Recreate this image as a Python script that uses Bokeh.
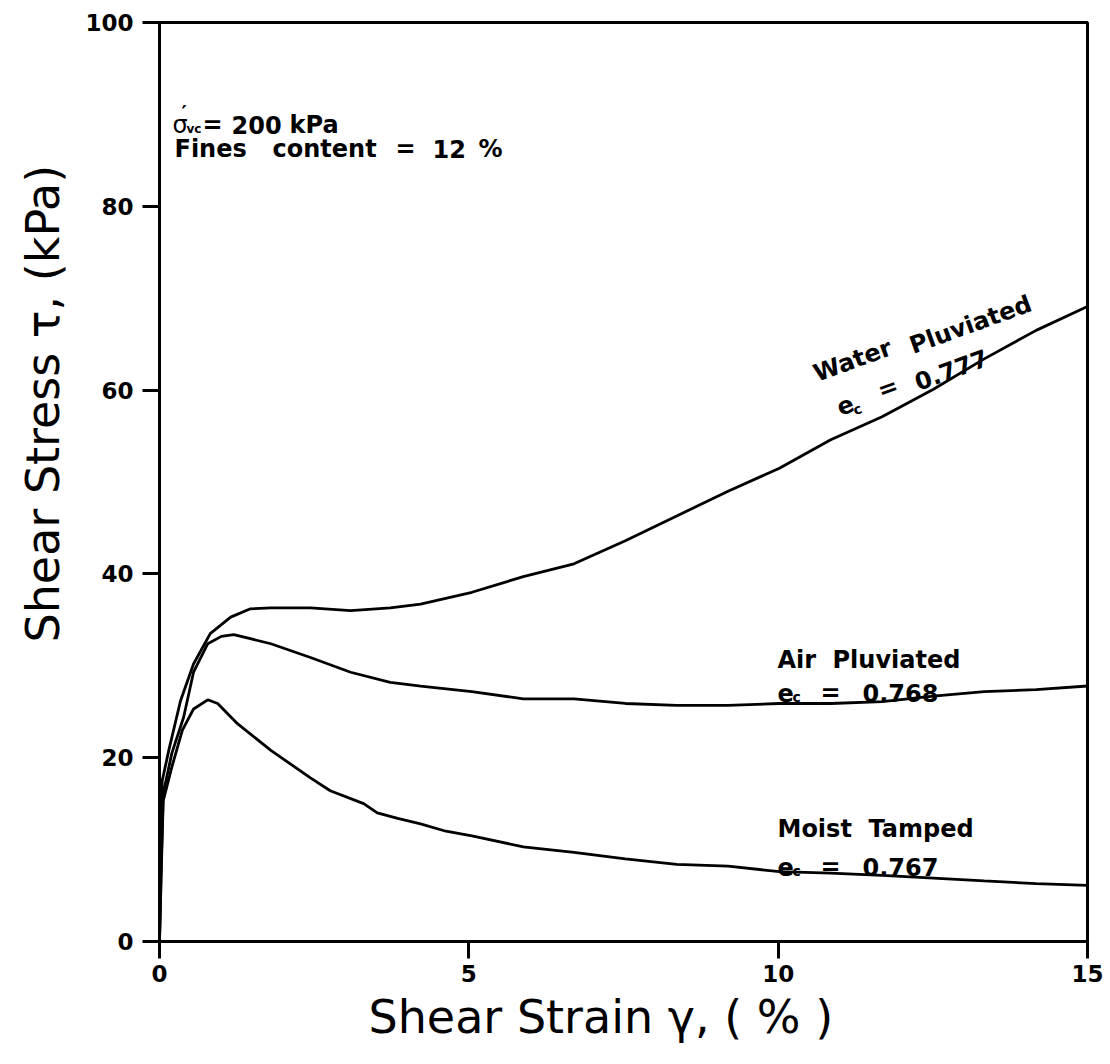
import math
from bokeh.plotting import figure
from bokeh.models import Label, FixedTicker, Range1d, Title
from bokeh.embed import file_html
from bokeh.resources import INLINE

# ---- data ----
water_x = [0, 0.02, 0.044, 0.15, 0.34, 0.55, 0.82, 1.15, 1.47, 1.8, 2.44, 3.09, 3.73,
           4.22, 5.05, 5.88, 6.70, 7.53, 8.36, 9.19, 10.02, 10.85, 11.68, 12.51, 13.33, 14.17, 15.0]
water_y = [0, 10, 17.5, 20.8, 26.2, 30.2, 33.5, 35.3, 36.2, 36.3, 36.3, 36.0, 36.3,
           36.7, 38.0, 39.7, 41.1, 43.6, 46.3, 49.0, 51.5, 54.6, 57.1, 60.1, 63.4, 66.5, 69.1]

air_x = [0, 0.03, 0.06, 0.2, 0.39, 0.55, 0.78, 1.0, 1.2, 1.8, 2.44, 3.09, 3.73,
         4.22, 5.05, 5.88, 6.70, 7.53, 8.36, 9.19, 10.02, 10.85, 11.68, 12.51, 13.33, 14.17, 15.0]
air_y = [0, 9, 16.1, 20.5, 24.4, 29.3, 32.4, 33.2, 33.4, 32.4, 30.9, 29.3, 28.2,
         27.8, 27.2, 26.4, 26.4, 25.9, 25.7, 25.7, 25.9, 25.9, 26.1, 26.7, 27.2, 27.4, 27.8]

moist_x = [0, 0.03, 0.06, 0.2, 0.37, 0.55, 0.78, 0.94, 1.26, 1.8, 2.44, 2.76, 3.3, 3.52, 3.85,
           4.22, 4.63, 5.05, 5.88, 6.70, 7.53, 8.36, 9.19, 10.02, 10.85, 11.68, 12.51, 13.33, 14.17, 15.0]
moist_y = [0, 8, 15.3, 19.0, 23.0, 25.3, 26.3, 25.9, 23.7, 20.8, 17.8, 16.4, 15.0, 14.0, 13.4,
           12.8, 12.0, 11.5, 10.3, 9.7, 9.0, 8.4, 8.2, 7.6, 7.45, 7.2, 6.9, 6.6, 6.3, 6.1]

x_ticks = [0, 5, 10, 15]
y_ticks = [0, 20, 40, 60, 80, 100]

x_title = "Shear Strain γ, ( % )"
y_title = "Shear Stress τ, (kPa)"

# ---- layout constants ----
W, H = 1110, 1064
FL, FR, FT, FB = 159, 1087, 22, 941   # frame edges in pixels
XMAX, YMAX = 15, 100
FONT = "DejaVu Sans"


def X(px):
    return (px - FL) * XMAX / (FR - FL)


def Y(py):
    return (FB - py) * YMAX / (FB - FT)


p = figure(width=W, height=H, x_range=Range1d(0, XMAX), y_range=Range1d(0, YMAX),
           output_backend="svg", toolbar_location=None,
           min_border_left=FL, min_border_right=W - FR,
           min_border_top=FT, min_border_bottom=H - FB)
p.background_fill_color = "white"
p.border_fill_color = "white"
p.grid.visible = False
p.outline_line_color = "black"
p.outline_line_width = 3

p.xaxis.ticker = FixedTicker(ticks=x_ticks, minor_ticks=[])
p.yaxis.ticker = FixedTicker(ticks=y_ticks, minor_ticks=[])
for ax in (p.xaxis, p.yaxis):
    ax.axis_line_color = "black"
    ax.axis_line_width = 3
    ax.major_tick_line_color = "black"
    ax.major_tick_line_width = 3
    ax.major_tick_in = 0
    ax.major_tick_out = 17
    ax.minor_tick_line_color = None
    ax.major_label_text_font = FONT
    ax.major_label_text_font_style = "bold"
    ax.major_label_text_font_size = "23px"
    ax.major_label_text_color = "black"
p.xaxis.major_label_standoff = 6
p.yaxis.major_label_standoff = 9

# axis titles as Title panels so they can sit off-centre like the reference
p.add_layout(Title(text=y_title, align="left", offset=299, text_font=FONT,
                   text_font_size="46px", text_font_style="normal",
                   text_color="black", standoff=25), "left")
p.add_layout(Title(text=x_title, align="left", offset=209, text_font=FONT,
                   text_font_size="46px", text_font_style="normal",
                   text_color="black", standoff=6), "below")

for xs, ys in ((water_x, water_y), (air_x, air_y), (moist_x, moist_y)):
    p.line(xs, ys, line_color="black", line_width=2.8)


def txt(s, px, py, size=24, bold=True, angle=0.0, align="left", baseline="alphabetic"):
    p.add_layout(Label(x=X(px), y=Y(py), text=s, text_font=FONT,
                       text_font_size=f"{size}px",
                       text_font_style="bold" if bold else "normal",
                       angle=angle, text_align=align, text_baseline=baseline,
                       text_color="black"))


# top-left note
txt("σ", 172, 124, bold=False)
txt("′", 181, 111, size=20)
txt("vc", 186, 128, size=12)
txt("=", 202, 124)
txt("200", 231, 124)
txt("kPa", 289, 124)
txt("Fines", 174, 148)
txt("content", 272, 148)
txt("=", 395, 148)
txt("12", 432, 148)
txt("%", 478, 148)

# Water pluviated (rotated)
a = math.radians(20)
txt("Water", 814, 374, angle=a)
txt("Pluviated", 910, 346, angle=a)
txt("e", 837, 407, angle=a)
txt("c", 853, 410, size=14, angle=a)
txt("=", 878, 391, angle=a)
txt("0.777", 915, 382, angle=a)

# Air pluviated
txt("Air", 777, 659)
txt("Pluviated", 832, 659)
txt("e", 777, 692)
txt("c", 792, 696, size=14)
txt("=", 820, 692)
txt("0.768", 862, 692)

# Moist tamped
txt("Moist", 777, 828)
txt("Tamped", 868, 828)
txt("e", 777, 866)
txt("c", 792, 870, size=14)
txt("=", 820, 866)
txt("0.767", 862, 866)

open("out.html", "w").write(file_html(p, INLINE))
